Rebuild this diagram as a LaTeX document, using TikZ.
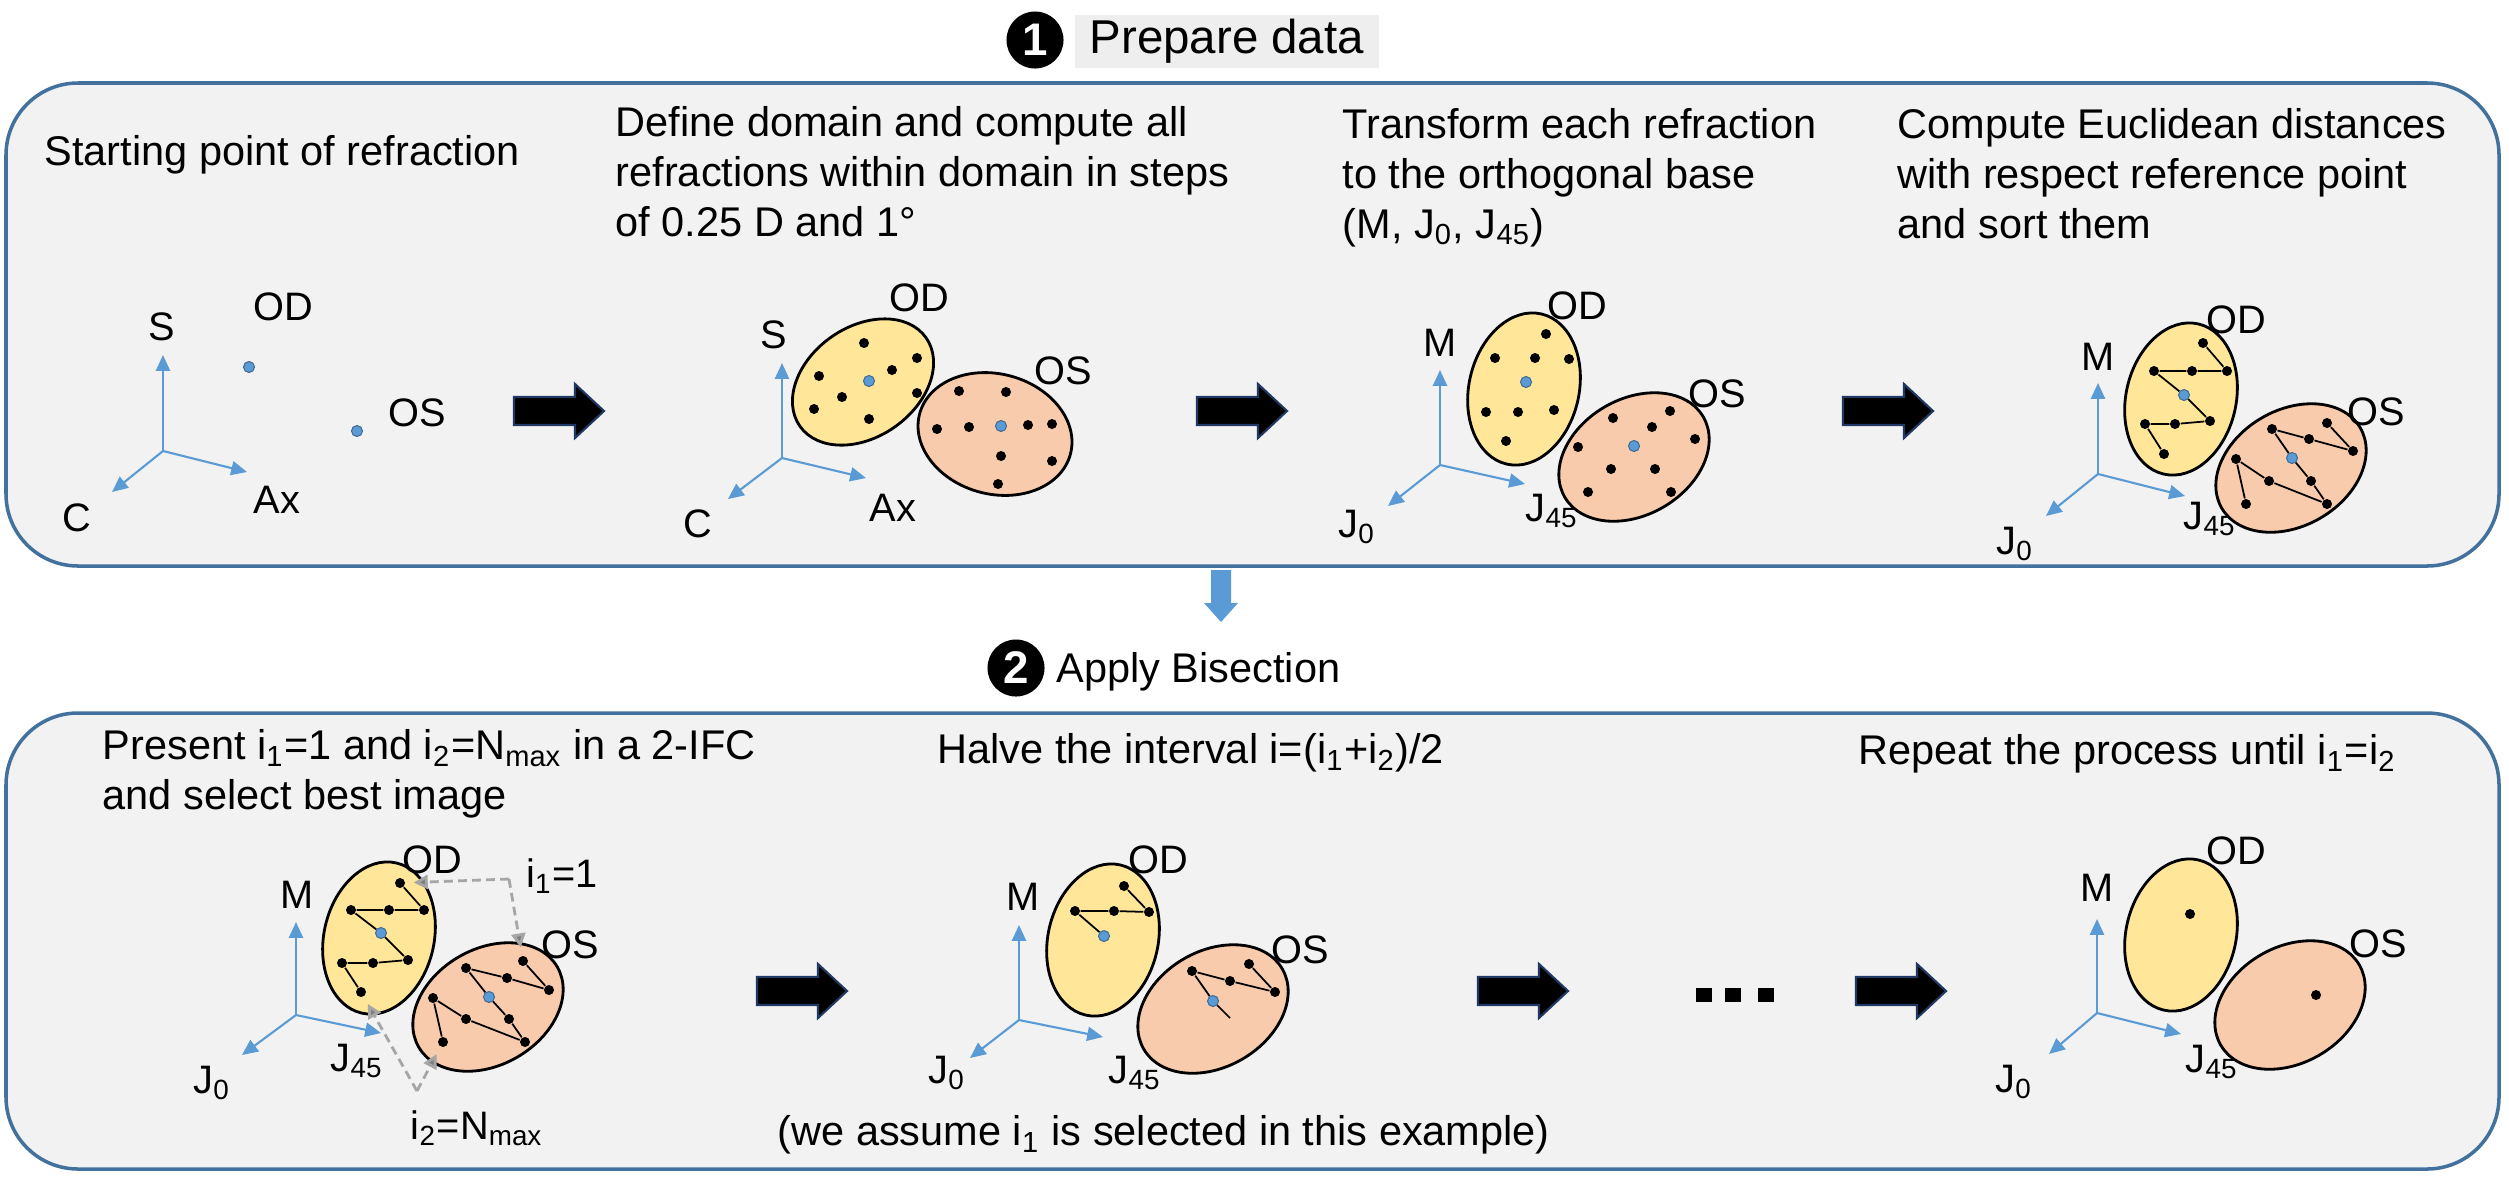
\documentclass[tikz,border=0pt]{standalone}
\usepackage{fontspec}
\setmainfont{Liberation Sans}
\usetikzlibrary{arrows.meta,shapes.geometric}
\definecolor{panelgray}{HTML}{F2F2F2}
\definecolor{boxblue}{HTML}{41719C}
\definecolor{axisblue}{HTML}{5B9BD5}
\definecolor{odyellow}{HTML}{FFE699}
\definecolor{ospeach}{HTML}{F8CBAD}
\definecolor{arrowedge}{HTML}{1F3864}
\definecolor{dashgray}{HTML}{A6A6A6}
\definecolor{tipgray}{HTML}{7F7F7F}
\definecolor{titlegray}{HTML}{EEEEEE}
\tikzset{
  body/.style={font=\fontsize{11.8}{14.2}\selectfont, align=left, anchor=north west, inner sep=0pt},
  lab/.style={font=\fontsize{11.3}{13}\selectfont, inner sep=0pt},
  panelbox/.style={draw=boxblue, line width=1pt, fill=panelgray, rounded corners=0.72cm},
  axis/.style={draw=axisblue, line width=0.6pt, -{Triangle[length=4.5pt,width=4pt,fill=axisblue]}},
  odell/.style={ellipse, draw=black, line width=0.8pt, fill=odyellow, inner sep=0pt},
  osell/.style={ellipse, draw=black, line width=0.8pt, fill=ospeach, inner sep=0pt},
  blackdot/.style={circle, fill=black, inner sep=0pt, minimum size=0.1cm},
  bluedot/.style={circle, fill=axisblue, draw=axisblue!70!black, line width=0.3pt, inner sep=0pt, minimum size=0.11cm},
  link/.style={draw=black, line width=0.5pt},
  dasharrow/.style={draw=dashgray, line width=0.8pt, dash pattern=on 2.5pt off 1.5pt, -{Triangle[length=4pt,width=4pt,fill=tipgray]}, shorten >=0.08cm},
  numcircle/.style={circle, fill=black, text=white, inner sep=0pt, minimum size=0.57cm, font=\fontsize{13}{14}\selectfont\bfseries},
  blockarrow/.pic={\draw[draw=arrowedge, fill=black, line width=0.6pt] (0,-14) -- (61,-14) -- (61,-27) -- (90,0) -- (61,27) -- (61,14) -- (0,14) -- cycle;}
}
\begin{document}
\begin{tikzpicture}[x=0.01cm,y=-0.01cm]
\useasboundingbox[fill=white] (0,0) rectangle (2509,1184);

% ---------- titles ----------
\node[numcircle] (n1) at (1035,40) {1};
\node[fill=titlegray, minimum width=3.04cm, minimum height=0.53cm, inner sep=0pt, anchor=west,
      font=\fontsize{13.5}{15}\selectfont] (h1) at (1074,41.5) {Prepare data};
\node[numcircle] (n2) at (1016,668) {2};
\node[font=\fontsize{11.8}{14}\selectfont, inner sep=0pt, anchor=base west] (h2) at (1056,682) {Apply Bisection};

% ---------- panels ----------
\draw[panelbox] (6,83) rectangle (2499,566);
\draw[panelbox] (6,713) rectangle (2499,1169);

% down arrow
\fill[axisblue] (1211,570) -- (1231,570) -- (1231,603) -- (1238,603) -- (1221,622) -- (1204,603) -- (1211,603) -- cycle;

% ---------- top texts ----------
\node[body] (t1) at (44,135) {Starting point of refraction};
\node[body] (t2) at (615,106) {Define domain and compute all\\refractions within domain in steps\\of 0.25 D and 1°};
\node[body] (t3) at (1342,108) {Transform each refraction\\to the orthogonal base\\(M, J\textsubscript{0}, J\textsubscript{45})};
\node[body] (t4) at (1897,108) {Compute Euclidean distances\\with respect reference point\\and sort them};

% ---------- bottom texts ----------
\node[body] (b1t) at (102,729) {Present i\textsubscript{1}=1 and i\textsubscript{2}=N\textsubscript{max} in a 2-IFC\\and select best image};
\node[body] (b2t) at (937,733) {Halve the interval i=(i\textsubscript{1}+i\textsubscript{2})/2};
\node[body] (b3t) at (1858,734) {Repeat the process until i\textsubscript{1}=i\textsubscript{2}};
\node[body] (b4t) at (777,1115) {(we assume i\textsubscript{1} is selected in this example)};

% ---------- block arrows ----------
\pic (ar1) at (514,411) {blockarrow};
\pic (ar2) at (1197,411) {blockarrow};
\pic (ar3) at (1843,411) {blockarrow};
\pic (ar4) at (757,991) {blockarrow};
\pic (ar5) at (1478,991) {blockarrow};
\pic (ar6) at (1856,991) {blockarrow};
\fill (1696,988) rectangle (1712,1002);
\fill (1725,988) rectangle (1741,1002);
\fill (1758,988) rectangle (1774,1002);

% ================= TOP PANEL 1 =================
\coordinate (o1) at (163,451);
\coordinate (o1S) at (163,355);
\coordinate (o1C) at (112,492);
\coordinate (o1A) at (247,472);
\draw[axis] (o1) -- (o1S);
\draw[axis] (o1) -- (o1C);
\draw[axis] (o1) -- (o1A);
\node[lab] (l1S) at (162,327) {S};
\node[lab] (l1C) at (77,518) {C};
\node[lab] (l1A) at (277,500) {Ax};
\node[lab] (l1OD) at (283,307) {OD};
\node[lab] (l1OS) at (417,413) {OS};
\node[bluedot] (p1D) at (249,367) {};
\node[bluedot] (p1S) at (357,431) {};

% ================= TOP PANEL 2 =================
\coordinate (o2) at (782,458);
\coordinate (o2S) at (782,363);
\coordinate (o2C) at (728,499);
\coordinate (o2A) at (866,478);
\draw[axis] (o2) -- (o2S);
\draw[axis] (o2) -- (o2C);
\draw[axis] (o2) -- (o2A);
\node[lab] (l2S) at (774,335) {S};
\node[lab] (l2C) at (698,524) {C};
\node[lab] (l2A) at (893,508) {Ax};
\node[odell, minimum width=1.54cm, minimum height=1.10cm, rotate=35] (e2D) at (863,382) {};
\node[osell, minimum width=1.56cm, minimum height=1.20cm, rotate=-15] (e2S) at (995,434) {};
\node[lab] (l2OD) at (919,298) {OD};
\node[lab] (l2OS) at (1063,371) {OS};
\foreach \n/\p in {1/{864,343},2/{917,358},3/{892,370},4/{819,376},5/{917,393},6/{842,397},7/{814,409},8/{869,419}}
  \node[blackdot] (q2D\n) at (\p) {};
\node[bluedot] (q2Dc) at (869,381) {};
\foreach \n/\p in {1/{959,391},2/{1006,392},3/{937,429},4/{969,427},5/{1028,425},6/{1052,424},7/{1001,456},8/{1052,461},9/{998,484}}
  \node[blackdot] (q2S\n) at (\p) {};
\node[bluedot] (q2Sc) at (1001,426) {};

% ================= TOP PANEL 3 =================
\coordinate (o3) at (1440,465);
\coordinate (o3M) at (1440,370);
\coordinate (o3J) at (1388,506);
\coordinate (o3K) at (1525,484);
\draw[axis] (o3) -- (o3M);
\draw[axis] (o3) -- (o3J);
\draw[axis] (o3) -- (o3K);
\node[lab] (l3M) at (1440,343) {M};
\node[lab] (l3J) at (1357,527) {J\textsubscript{0}};
\node[lab] (l3K) at (1552,511) {J\textsubscript{45}};
\node[odell, minimum width=1.54cm, minimum height=1.10cm, rotate=77] (e3D) at (1524,389) {};
\node[osell, minimum width=1.60cm, minimum height=1.16cm, rotate=30] (e3S) at (1634,457) {};
\node[lab] (l3OD) at (1577,306) {OD};
\node[lab] (l3OS) at (1717,394) {OS};
\foreach \n/\p in {1/{1546,334},2/{1495,358},3/{1535,358},4/{1569,359},5/{1486,412},6/{1518,412},7/{1554,410},8/{1506,441}}
  \node[blackdot] (q3D\n) at (\p) {};
\node[bluedot] (q3Dc) at (1526,382) {};
\foreach \n/\p in {1/{1613,418},2/{1670,411},3/{1652,427},4/{1695,439},5/{1578,447},6/{1611,469},7/{1655,469},8/{1588,492},9/{1671,492}}
  \node[blackdot] (q3S\n) at (\p) {};
\node[bluedot] (q3Sc) at (1634,446) {};

% ================= TOP PANEL 4 =================
\coordinate (o4) at (2098,474);
\coordinate (o4M) at (2098,383);
\coordinate (o4J) at (2046,516);
\coordinate (o4K) at (2185,496);
\draw[axis] (o4) -- (o4M);
\draw[axis] (o4) -- (o4J);
\draw[axis] (o4) -- (o4K);
\node[lab] (l4M) at (2098,357) {M};
\node[lab] (l4J) at (2015,544) {J\textsubscript{0}};
\node[lab] (l4K) at (2210,519) {J\textsubscript{45}};
\node[odell, minimum width=1.54cm, minimum height=1.10cm, rotate=77] (e4D) at (2181,399) {};
\node[osell, minimum width=1.60cm, minimum height=1.16cm, rotate=30] (e4S) at (2291,468) {};
\node[lab] (l4OD) at (2236,320) {OD};
\node[lab] (l4OS) at (2376,412) {OS};
\node[blackdot] (q4D1) at (2203,343) {};
\node[blackdot] (q4D2) at (2227,371) {};
\node[blackdot] (q4D3) at (2192,371) {};
\node[blackdot] (q4D4) at (2154,371) {};
\node[bluedot]  (q4Dc) at (2184,395) {};
\node[blackdot] (q4D5) at (2210,421) {};
\node[blackdot] (q4D6) at (2175,424) {};
\node[blackdot] (q4D7) at (2145,424) {};
\node[blackdot] (q4D8) at (2164,454) {};
\draw[link] (q4D1) -- (q4D2) -- (q4D3) -- (q4D4) -- (q4Dc) -- (q4D5) -- (q4D6) -- (q4D7) -- (q4D8);
\node[blackdot] (q4Sa) at (2327,423) {};
\node[blackdot] (q4Sb) at (2353,451) {};
\node[blackdot] (q4Sc2) at (2309,439) {};
\node[blackdot] (q4Sd) at (2272,429) {};
\node[bluedot]  (q4Sc) at (2292,458) {};
\node[blackdot] (q4Se) at (2311,481) {};
\node[blackdot] (q4Sf) at (2327,504) {};
\node[blackdot] (q4Sg) at (2269,481) {};
\node[blackdot] (q4Sh) at (2236,459) {};
\node[blackdot] (q4Si) at (2246,504) {};
\draw[link] (q4Sa) -- (q4Sb) -- (q4Sc2) -- (q4Sd) -- (q4Sc) -- (q4Se) -- (q4Sf) -- (q4Sg) -- (q4Sh) -- (q4Si);

% ================= BOTTOM PANEL 1 =================
\coordinate (o5) at (296,1015);
\coordinate (o5M) at (296,922);
\coordinate (o5J) at (242,1055);
\coordinate (o5K) at (381,1033);
\draw[axis] (o5) -- (o5M);
\draw[axis] (o5) -- (o5J);
\draw[axis] (o5) -- (o5K);
\node[lab] (l5M) at (297,895) {M};
\node[lab] (l5J) at (212,1083) {J\textsubscript{0}};
\node[lab] (l5K) at (357,1061) {J\textsubscript{45}};
\node[odell, minimum width=1.54cm, minimum height=1.10cm, rotate=77] (e5D) at (379,938) {};
\node[osell, minimum width=1.60cm, minimum height=1.16cm, rotate=30] (e5S) at (488,1007) {};
\node[lab] (l5OD) at (432,860) {OD};
\node[lab] (l5OS) at (570,945) {OS};
\node[blackdot] (q5D1) at (400,883) {};
\node[blackdot] (q5D2) at (424,910) {};
\node[blackdot] (q5D3) at (389,910) {};
\node[blackdot] (q5D4) at (351,910) {};
\node[bluedot]  (q5Dc) at (381,933) {};
\node[blackdot] (q5D5) at (408,960) {};
\node[blackdot] (q5D6) at (373,963) {};
\node[blackdot] (q5D7) at (342,963) {};
\node[blackdot] (q5D8) at (361,992) {};
\draw[link] (q5D1) -- (q5D2) -- (q5D3) -- (q5D4) -- (q5Dc) -- (q5D5) -- (q5D6) -- (q5D7) -- (q5D8);
\node[blackdot] (q5Sa) at (523,961) {};
\node[blackdot] (q5Sb) at (549,990) {};
\node[blackdot] (q5Sc2) at (507,978) {};
\node[blackdot] (q5Sd) at (466,968) {};
\node[bluedot]  (q5Sc) at (489,997) {};
\node[blackdot] (q5Se) at (509,1019) {};
\node[blackdot] (q5Sf) at (525,1042) {};
\node[blackdot] (q5Sg) at (466,1019) {};
\node[blackdot] (q5Sh) at (433,998) {};
\node[blackdot] (q5Si) at (443,1042) {};
\draw[link] (q5Sa) -- (q5Sb) -- (q5Sc2) -- (q5Sd) -- (q5Sc) -- (q5Se) -- (q5Sf) -- (q5Sg) -- (q5Sh) -- (q5Si);
\node[lab] (l5i1) at (562,876) {i\textsubscript{1}=1};
\node[lab] (l5i2) at (477,1128) {i\textsubscript{2}=N\textsubscript{max}};
\coordinate (uC) at (509,879);
\coordinate (lC) at (417,1091);
\draw[dasharrow] (uC) -- (q5D1);
\draw[dasharrow] (uC) -- (q5Sa);
\draw[dasharrow] (lC) -- (q5D8);
\draw[dasharrow] (lC) -- (q5Si);

% ================= BOTTOM PANEL 2 =================
\coordinate (o6) at (1019,1020);
\coordinate (o6M) at (1019,925);
\coordinate (o6J) at (970,1058);
\coordinate (o6K) at (1103,1037);
\draw[axis] (o6) -- (o6M);
\draw[axis] (o6) -- (o6J);
\draw[axis] (o6) -- (o6K);
\node[lab] (l6M) at (1023,897) {M};
\node[lab] (l6J) at (947,1073) {J\textsubscript{0}};
\node[lab] (l6K) at (1135,1073) {J\textsubscript{45}};
\node[odell, minimum width=1.54cm, minimum height=1.10cm, rotate=77] (e6D) at (1103,940) {};
\node[osell, minimum width=1.60cm, minimum height=1.16cm, rotate=30] (e6S) at (1213,1009) {};
\node[lab] (l6OD) at (1158,860) {OD};
\node[lab] (l6OS) at (1300,950) {OS};
\node[blackdot] (q6D1) at (1124,886) {};
\node[blackdot] (q6D2) at (1149,912) {};
\node[blackdot] (q6D3) at (1114,911) {};
\node[blackdot] (q6D4) at (1075,911) {};
\node[bluedot]  (q6Dc) at (1104,936) {};
\draw[link] (q6D1) -- (q6D2) -- (q6D3) -- (q6D4) -- (q6Dc);
\node[blackdot] (q6Sa) at (1249,964) {};
\node[blackdot] (q6Sb) at (1275,992) {};
\node[blackdot] (q6Sc2) at (1230,981) {};
\node[blackdot] (q6Sd) at (1192,971) {};
\node[bluedot]  (q6Sc) at (1213,1001) {};
\coordinate (q6Send) at (1230,1018);
\draw[link] (q6Sa) -- (q6Sb) -- (q6Sc2) -- (q6Sd) -- (q6Sc) -- (q6Send);

% ================= BOTTOM PANEL 3 =================
\coordinate (o7) at (2097,1013);
\coordinate (o7M) at (2097,919);
\coordinate (o7J) at (2049,1054);
\coordinate (o7K) at (2181,1034);
\draw[axis] (o7) -- (o7M);
\draw[axis] (o7) -- (o7J);
\draw[axis] (o7) -- (o7K);
\node[lab] (l7M) at (2097,888) {M};
\node[lab] (l7J) at (2014,1082) {J\textsubscript{0}};
\node[lab] (l7K) at (2212,1062) {J\textsubscript{45}};
\node[odell, minimum width=1.54cm, minimum height=1.10cm, rotate=77] (e7D) at (2181,935) {};
\node[osell, minimum width=1.60cm, minimum height=1.16cm, rotate=30] (e7S) at (2290,1005) {};
\node[lab] (l7OD) at (2236,851) {OD};
\node[lab] (l7OS) at (2378,944) {OS};
\node[blackdot] (q7D) at (2190,914) {};
\node[blackdot] (q7S) at (2316,995) {};
\end{tikzpicture}
\end{document}
